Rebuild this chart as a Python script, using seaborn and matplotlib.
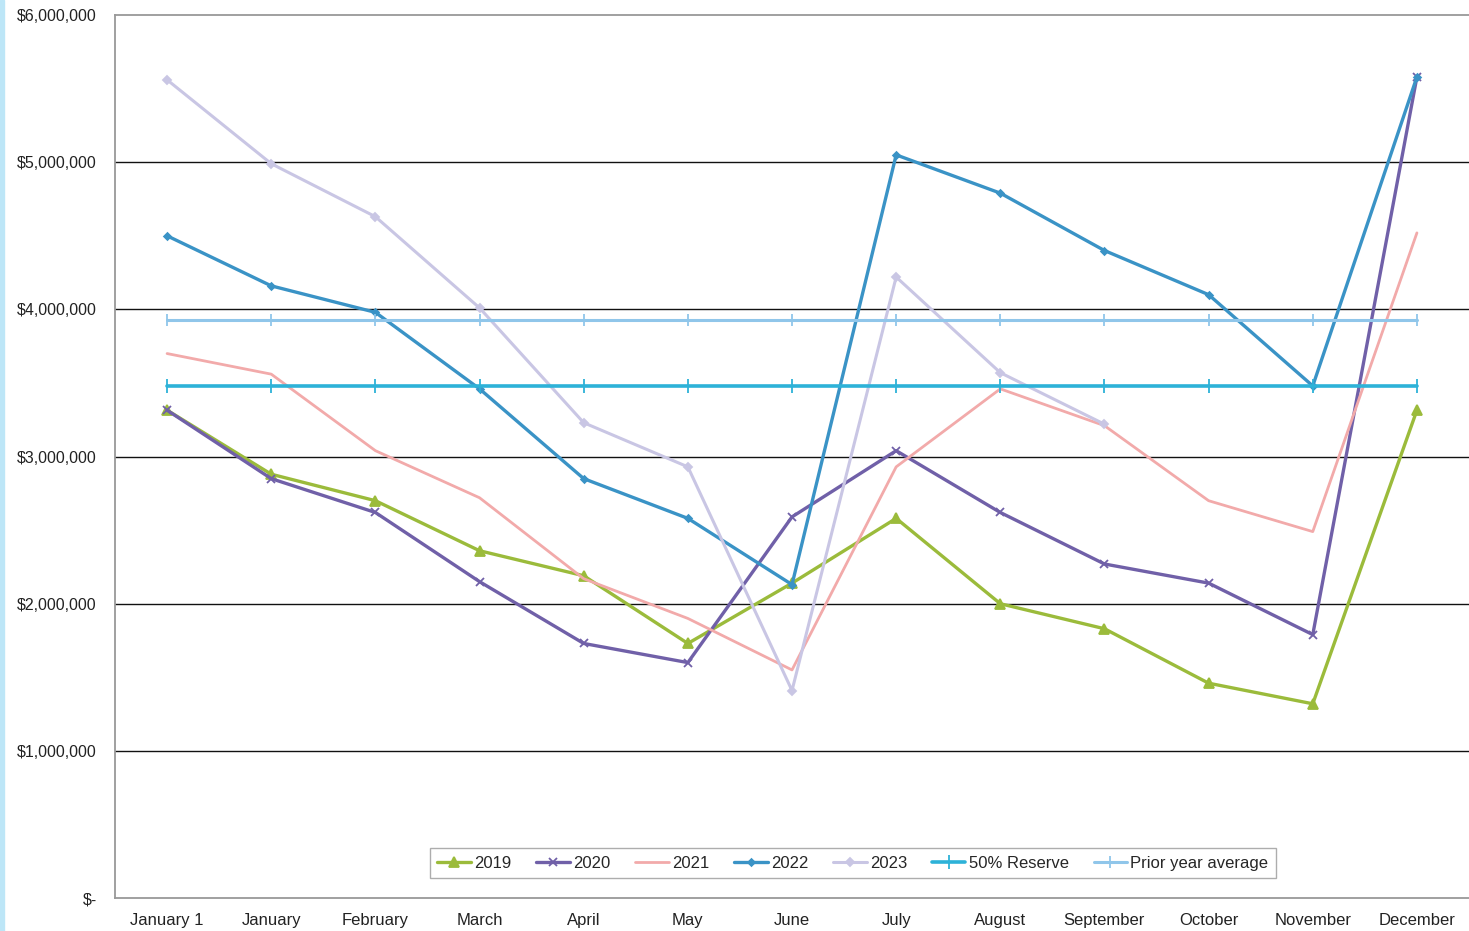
import numpy as np
import pandas as pd
import matplotlib
matplotlib.use("Agg")
import matplotlib.pyplot as plt
from matplotlib.ticker import FuncFormatter, MultipleLocator, FixedLocator
from matplotlib.patches import Rectangle
import seaborn as sns

# Month labels along the category axis
months = ["January 1", "January", "February", "March", "April", "May", "June",
          "July", "August", "September", "October", "November", "December"]

# Month-end balances by year (dollars, millions)
y2019 = [3.315, 2.88, 2.70, 2.36, 2.19, 1.73, 2.14, 2.58, 2.00, 1.83, 1.46, 1.32, 3.315]
y2020 = [3.315, 2.85, 2.62, 2.15, 1.73, 1.60, 2.59, 3.04, 2.62, 2.27, 2.14, 1.79, 5.58]
y2021 = [3.70, 3.56, 3.04, 2.72, 2.17, 1.90, 1.55, 2.93, 3.46, 3.21, 2.70, 2.49, 4.52]
y2022 = [4.50, 4.16, 3.98, 3.46, 2.85, 2.58, 2.13, 5.05, 4.79, 4.40, 4.10, 3.48, 5.58]
y2023 = [5.56, 4.99, 4.63, 4.01, 3.23, 2.93, 1.41, 4.22, 3.57, 3.22, None, None, None]

reserve_50 = 3.48
prior_year_avg = 3.93

sns.set_theme(style="white")
plt.rcParams["font.family"] = ["Liberation Sans", "DejaVu Sans"]

fig = plt.figure(figsize=(14.69, 9.31), dpi=100)
ax = fig.add_axes([0.0783, 0.0354, 0.9217, 0.9484])

x = np.arange(len(months))

series = [
    ("2019", y2019, "#9BBB3B", "^", 7, 2.4),
    ("2020", y2020, "#7060A8", "x", 6, 2.4),
    ("2021", y2021, "#F2AAAA", "None", 5, 2.0),
    ("2022", y2022, "#3A93C6", "D", 3.5, 2.4),
    ("2023", y2023, "#C9C6E4", "D", 4, 2.2),
    ("50% Reserve", [reserve_50] * len(months), "#2DB2D8", "|", 10, 2.6),
    ("Prior year average", [prior_year_avg] * len(months), "#90C6EA", "|", 8, 2.2),
]

for name, vals, color, marker, ms, lw in series:
    df = pd.DataFrame({"x": x, "y": [np.nan if v is None else v * 1e6 for v in vals]})
    df = df.dropna()
    sns.lineplot(data=df, x="x", y="y", ax=ax, color=color, linewidth=lw,
                 marker=marker, markersize=ms, markeredgecolor=color,
                 markeredgewidth=1.3, label=name, zorder=3)

# Axes limits and ticks
ax.set_xlim(-0.5, len(months) - 0.5)
ax.set_ylim(0, 6e6)
ax.yaxis.set_major_locator(MultipleLocator(1e6))
ax.yaxis.set_major_formatter(FuncFormatter(lambda v, p: "$-" if v == 0 else f"${v:,.0f}"))
ax.set_xticks(x)
ax.set_xticklabels(months)
ax.xaxis.set_minor_locator(FixedLocator(np.arange(-0.5, len(months), 1.0)))
ax.tick_params(axis="x", which="major", length=0, pad=11, labelsize=12, colors="#222222")
ax.tick_params(axis="x", which="minor", length=5, width=1, color="#888888", direction="out")
ax.tick_params(axis="y", which="major", length=5, width=1, color="#888888", direction="out",
               labelsize=11.5, pad=8, colors="#222222")
ax.set_xlabel("")
ax.set_ylabel("")

# Horizontal gridlines
for gv in range(1, 6):
    ax.axhline(gv * 1e6, color="#111111", linewidth=1.0, zorder=1)

for side in ["left", "bottom", "top"]:
    ax.spines[side].set_color("#999999")
    ax.spines[side].set_linewidth(1.3)
ax.spines["right"].set_visible(False)

leg = ax.legend(loc="lower center", bbox_to_anchor=(0.545, 0.013), ncol=7, frameon=True,
                fancybox=False, edgecolor="#999999", fontsize=12, handlelength=2.0,
                handletextpad=0.2, columnspacing=1.5, borderpad=0.45)
leg.get_frame().set_linewidth(1.0)

# Thin tinted strip along the left edge of the page
fig.patches.append(Rectangle((0, 0), 0.0025, 1, transform=fig.transFigure,
                             color="#BDE6F7", zorder=0))

fig.savefig("out.png", dpi=100)
